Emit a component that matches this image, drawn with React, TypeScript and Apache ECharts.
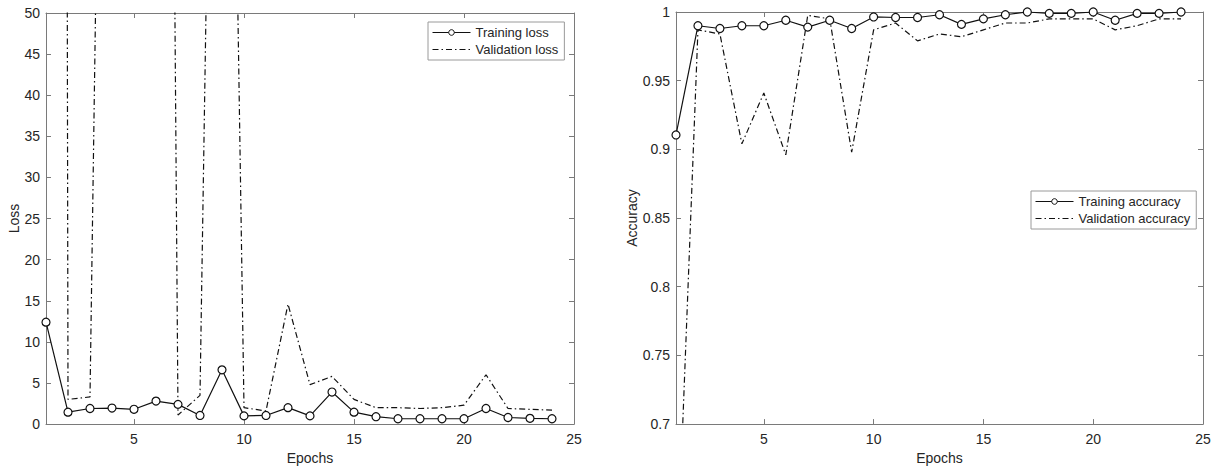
import React, { useEffect, useRef } from "react";
import * as echarts from "echarts";

const epochs = [1, 2, 3, 4, 5, 6, 7, 8, 9, 10, 11, 12, 13, 14, 15, 16, 17, 18, 19, 20, 21, 22, 23, 24];
const trainLoss = [12.4, 1.45, 1.9, 1.95, 1.8, 2.8, 2.4, 1.05, 6.6, 1.0, 1.05, 2.0, 1.0, 3.9, 1.45, 0.9, 0.65, 0.65, 0.65, 0.65, 1.9, 0.8, 0.7, 0.65];
const valLoss = [1500, 3.0, 3.3, 190, 250, 350, 1.1, 3.5, 175, 2.0, 1.6, 14.6, 4.8, 5.8, 3.0, 2.0, 2.0, 1.9, 2.0, 2.3, 6.0, 1.9, 1.8, 1.7];
const trainAcc = [0.9105, 0.99, 0.988, 0.99, 0.99, 0.994, 0.989, 0.994, 0.988, 0.9964, 0.996, 0.996, 0.998, 0.991, 0.995, 0.998, 1.0, 0.999, 0.999, 1.0, 0.994, 0.999, 0.999, 1.0];
const valAcc = [0.573, 0.987, 0.984, 0.904, 0.941, 0.896, 0.9976, 0.995, 0.898, 0.987, 0.992, 0.979, 0.984, 0.982, 0.987, 0.992, 0.992, 0.995, 0.995, 0.995, 0.987, 0.99, 0.995, 0.995];
const xTicks = [5, 10, 15, 20, 25];

const FONT = "'Liberation Sans', Arial, Helvetica, sans-serif";
const TEXT = "#262626";
const FRAME = "#7a7a7a";
const DASHDOT = [6, 3, 1.5, 3];

function pairs(ys: number[]) {
  return epochs.map((e, i) => [e, ys[i]]);
}

export default function App() {
  const ref = useRef<HTMLDivElement>(null);
  useEffect(() => {
    const chart = echarts.init(ref.current!, null, { renderer: "svg" });
    const axisLine = { show: true, onZero: false, lineStyle: { color: FRAME, width: 1 } };
    const tick = { show: true, inside: true, length: 5, lineStyle: { color: FRAME } };
    const label = { color: TEXT, fontSize: 14, fontFamily: FONT };
    const xAx = (grid: number, pos: "bottom" | "top", margin: number, nameGap: number) => ({
      type: "value",
      gridIndex: grid,
      position: pos,
      min: 1,
      max: 25,
      axisLine,
      axisTick: { ...tick, customValues: xTicks },
      axisLabel: pos === "bottom" ? { ...label, margin, customValues: xTicks } : { show: false },
      splitLine: { show: false },
      name: pos === "bottom" ? "Epochs" : "",
      nameLocation: "middle",
      nameGap,
      nameTextStyle: { color: TEXT, fontSize: 14, fontFamily: FONT },
    });
    const yAx = (grid: number, pos: "left" | "right", min: number, max: number, interval: number, name: string, nameGap: number) => ({
      type: "value",
      gridIndex: grid,
      position: pos,
      min,
      max,
      interval,
      axisLine,
      axisTick: tick,
      axisLabel: pos === "left" ? { ...label, margin: 6 } : { show: false },
      splitLine: { show: false },
      name: pos === "left" ? name : "",
      nameLocation: "middle",
      nameGap,
      nameRotate: 90,
      nameTextStyle: { color: TEXT, fontSize: 14, fontFamily: FONT },
    });
    const trainSeries = (name: string, x: number, y: number, data: number[]) => ({
      name,
      type: "line",
      xAxisIndex: x,
      yAxisIndex: y,
      data: pairs(data),
      symbol: "circle",
      symbolSize: 8,
      showSymbol: true,
      itemStyle: { color: "#ffffff", borderColor: "#111", borderWidth: 1.2 },
      lineStyle: { color: "#111", width: 1.2 },
      z: 3,
    });
    const valSeries = (name: string, x: number, y: number, data: number[]) => ({
      name,
      type: "line",
      xAxisIndex: x,
      yAxisIndex: y,
      data: pairs(data),
      symbol: "none",
      clip: true,
      itemStyle: { color: "#111" },
      lineStyle: { color: "#111", width: 1.2, type: DASHDOT },
      z: 2,
    });
    const legendBase = {
      orient: "vertical",
      itemWidth: 38,
      itemHeight: 7,
      itemGap: 4,
      padding: [4, 6, 4, 4],
      borderColor: "#9a9a9a",
      borderWidth: 1,
      backgroundColor: "#fff",
      textStyle: { color: TEXT, fontSize: 13, fontFamily: FONT, lineHeight: 13 },
      lineStyle: { width: 1 },
      selectedMode: false,
    };
    const trainItem = (name: string) => ({ name, itemStyle: { color: "#fff", borderColor: "#111", borderWidth: 1 } });
    const valItem = (name: string) => ({ name, itemStyle: { opacity: 0 } });
    chart.setOption({
      animation: false,
      backgroundColor: "#fff",
      grid: [
        { left: 46, top: 13, width: 528, height: 414 },
        { left: 676, top: 12, width: 527, height: 419 },
      ],
      xAxis: [xAx(0, "bottom", 8, 26), xAx(0, "top", 8, 26), xAx(1, "bottom", 8, 24), xAx(1, "top", 8, 24)],
      yAxis: [
        yAx(0, "left", 0, 50, 5, "Loss", 22),
        yAx(0, "right", 0, 50, 5, "", 22),
        yAx(1, "left", 0.7, 1, 0.05, "Accuracy", 31),
        yAx(1, "right", 0.7, 1, 0.05, "", 31),
      ],
      legend: [
        { ...legendBase, data: [trainItem("Training loss"), valItem("Validation loss")], left: 428, top: 22 },
        { ...legendBase, data: [trainItem("Training accuracy"), valItem("Validation accuracy")], left: 1031, top: 191 },
      ],
      series: [
        trainSeries("Training loss", 0, 0, trainLoss),
        valSeries("Validation loss", 0, 0, valLoss),
        trainSeries("Training accuracy", 2, 2, trainAcc),
        valSeries("Validation accuracy", 2, 2, valAcc),
      ],
    });
    return () => chart.dispose();
  }, []);
  return <div ref={ref} style={{ position: "absolute", left: 0, top: 0, width: 1215, height: 470 }} />;
}
